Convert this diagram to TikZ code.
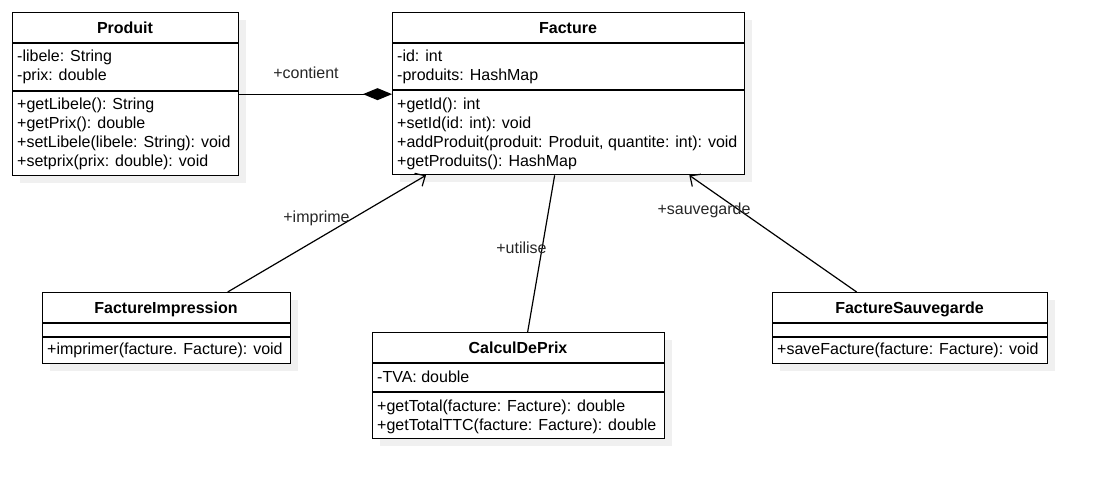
\documentclass[tikz,border=0pt]{standalone}
\usepackage{fontspec}
\setmainfont{Liberation Sans}
\usetikzlibrary{arrows.meta}
\definecolor{shadowc}{HTML}{F0F0F0}
\tikzset{
  cls/.style={draw=black, line width=1.3pt, fill=white, inner sep=0pt, anchor=north west},
  shd/.style={fill=shadowc, draw=none},
  sep/.style={draw=black, line width=1.3pt},
  txt/.style={font=\fontsize{16pt}{19pt}\selectfont, inner sep=0pt, anchor=base west, text=black},
  ttl/.style={font=\bfseries\fontsize{16pt}{19pt}\selectfont, inner sep=0pt, anchor=base, text=black},
  lbl/.style={font=\fontsize{16pt}{19pt}\selectfont, inner sep=0pt, anchor=base, text=black!85},
  conn/.style={draw=black, line width=1.2pt},
  comp/.style={conn, -{Diamond[length=29pt,width=12pt]}},
  dep/.style={conn, -{Straight Barb[length=8pt,width=15pt,line width=1.2pt]}},
}
\begin{document}
\begin{tikzpicture}[x=1pt,y=-1pt]
\useasboundingbox (0,0) rectangle (1095,488);
% shadows
\fill[shd] (20,20) rectangle (246,183);
\fill[shd] (400,20) rectangle (752,182);
\fill[shd] (50,300) rectangle (298,371);
\fill[shd] (380,340) rectangle (672,446);
\fill[shd] (780,300) rectangle (1055,371);
% Produit
\node[cls, minimum width=226pt, minimum height=163pt] (prod) at (12,12) {};
\draw[sep] (12,43) -- (238,43);
\draw[sep] (12,91) -- (238,91);
\node[ttl] (prodt) at (125,33) {Produit};
\node[txt] (prod1) at (17,61.5) {-libele: String};
\node[txt] (prod2) at (17,80.5) {-prix: double};
\node[txt] (prod3) at (17,109) {+getLibele(): String};
\node[txt] (prod4) at (17,128) {+getPrix(): double};
\node[txt] (prod5) at (17,147) {+setLibele(libele: String): void};
\node[txt] (prod6) at (17,166) {+setprix(prix: double): void};
% Facture
\node[cls, minimum width=352pt, minimum height=162pt] (fac) at (392,12) {};
\draw[sep] (392,43) -- (744,43);
\draw[sep] (392,90) -- (744,90);
\node[ttl] (fact) at (568,33) {Facture};
\node[txt] (fac1) at (397,61.5) {-id: int};
\node[txt] (fac2) at (397,80.5) {-produits: HashMap};
\node[txt] (fac3) at (397,109) {+getId(): int};
\node[txt] (fac4) at (397,128) {+setId(id: int): void};
\node[txt] (fac5) at (397,147) {+addProduit(produit: Produit, quantite: int): void};
\node[txt] (fac6) at (397,166) {+getProduits(): HashMap};
% FactureImpression
\node[cls, minimum width=248pt, minimum height=71pt] (fi) at (42,292) {};
\draw[sep] (42,323) -- (290,323);
\draw[sep] (42,337) -- (290,337);
\node[ttl] (fit) at (166,313.5) {FactureImpression};
\node[txt] (fi1) at (47,354.5) {+imprimer(facture. Facture): void};
% CalculDePrix
\node[cls, minimum width=292pt, minimum height=106pt] (cdp) at (372,332) {};
\draw[sep] (372,363) -- (664,363);
\draw[sep] (372,392) -- (664,392);
\node[ttl] (cdpt) at (518,353.5) {CalculDePrix};
\node[txt] (cdp1) at (377,382.5) {-TVA: double};
\node[txt] (cdp2) at (377,411.5) {+getTotal(facture: Facture): double};
\node[txt] (cdp3) at (377,430) {+getTotalTTC(facture: Facture): double};
% FactureSauvegarde
\node[cls, minimum width=275pt, minimum height=71pt] (fs) at (772,292) {};
\draw[sep] (772,323) -- (1047,323);
\draw[sep] (772,337) -- (1047,337);
\node[ttl] (fst) at (909.5,313.5) {FactureSauvegarde};
\node[txt] (fs1) at (777,354) {+saveFacture(facture: Facture): void};
% connectors
\draw[comp] (prod.east) -- (prod.east -| fac.west);
\draw[dep] ([xshift=61pt]fi.north) -- ([xshift=34pt]fac.south west);
\draw[conn] ([xshift=-14pt]fac.south) -- ([xshift=9pt]cdp.north);
\draw[dep] ([xshift=-53.5pt]fs.north) -- ([xshift=-56pt]fac.south east);
% labels
\node[lbl] (l1) at (306,78.5) {+contient};
\node[lbl] (l2) at (316.5,222.5) {+imprime};
\node[lbl] (l3) at (521.5,253.5) {+utilise};
\node[lbl] (l4) at (704,214.5) {+sauvegarde};
\end{tikzpicture}
\end{document}
